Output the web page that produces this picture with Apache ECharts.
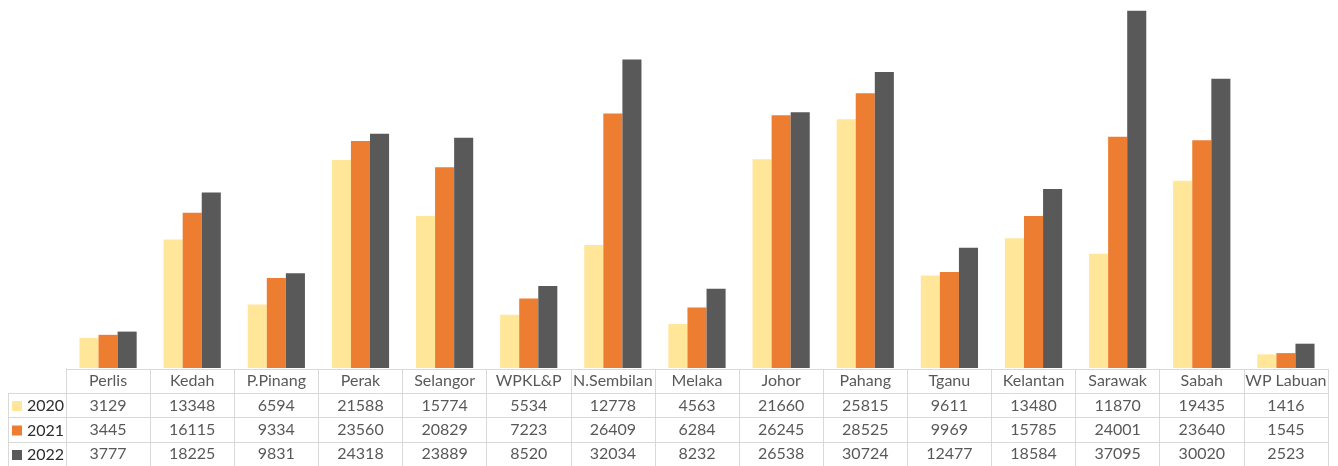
<!DOCTYPE html>
<html>
<head>
<meta charset="utf-8">
<script src="https://cdn.jsdelivr.net/npm/echarts@6/dist/echarts.min.js"></script>
<style>
html,body{margin:0;padding:0;background:#fff;}
#chart{width:1338px;height:466px;}
</style>
</head>
<body>
<div id="chart"></div>
<script>
var categories = ['Perlis','Kedah','P.Pinang','Perak','Selangor','WPKL&P','N.Sembilan','Melaka','Johor','Pahang','Tganu','Kelantan','Sarawak','Sabah','WP Labuan'];
var years = ['2020','2021','2022'];
var v2020 = [3129,13348,6594,21588,15774,5534,12778,4563,21660,25815,9611,13480,11870,19435,1416];
var v2021 = [3445,16115,9334,23560,20829,7223,26409,6284,26245,28525,9969,15785,24001,23640,1545];
var v2022 = [3777,18225,9831,24318,23889,8520,32034,8232,26538,30724,12477,18584,37095,30020,2523];
var colors = ['#FFE699','#ED7D31','#595959'];

var FONT = 'Lato';
var TXT = '#2e2e2e';
var LINE = '#d9d9d9';

var rows = [v2020, v2021, v2022];
var tableData = [];
categories.forEach(function(c, i){ tableData.push([i, 0.5, c]); });
rows.forEach(function(r, ri){
  r.forEach(function(v, i){ tableData.push([i, ri + 1.5, String(v)]); });
});

var chart = echarts.init(document.getElementById('chart'), null, {renderer:'canvas'});
chart.setOption({
  animation: false,
  backgroundColor: '#fff',
  color: colors,
  legend: {
    orient: 'vertical', left: 12, top: 398, padding: 0, height: 80,
    icon: 'rect', itemWidth: 10, itemHeight: 10, itemGap: 8.5,
    textStyle: {fontFamily: FONT, fontSize: 16, color: TXT, lineHeight: 16},
    data: years
  },
  grid: [
    {left: 66, right: 10, top: 0, bottom: 98},
    {left: 66, right: 10, top: 369, height: 98},
    {left: 8, width: 58, top: 393.5, height: 73.5}
  ],
  xAxis: [
    {type: 'category', gridIndex: 0, data: categories, axisLine: {show: false}, axisTick: {show: false}, axisLabel: {show: false}},
    {type: 'category', gridIndex: 1, data: categories, boundaryGap: true, axisLine: {show: false}, axisTick: {show: false}, axisLabel: {show: false},
     splitLine: {show: true, lineStyle: {color: LINE, width: 1}}},
    {type: 'value', gridIndex: 2, min: 0, max: 1, show: false}
  ],
  yAxis: [
    {type: 'value', gridIndex: 0, min: 0, max: 38200, show: false},
    {type: 'value', gridIndex: 1, min: 0, max: 4, interval: 1, inverse: true,
     axisLine: {show: true, lineStyle: {color: LINE}}, axisTick: {show: false}, axisLabel: {show: false},
     splitLine: {show: true, lineStyle: {color: LINE, width: 1}}},
    {type: 'value', gridIndex: 2, min: 0, max: 3, interval: 1, inverse: true,
     axisLine: {show: true, lineStyle: {color: LINE}}, axisTick: {show: false}, axisLabel: {show: false},
     splitLine: {show: true, lineStyle: {color: LINE, width: 1}}}
  ],
  series: [
    {name: years[0], type: 'bar', xAxisIndex: 0, yAxisIndex: 0, data: v2020, barGap: '0%', barCategoryGap: '32%'},
    {name: years[1], type: 'bar', xAxisIndex: 0, yAxisIndex: 0, data: v2021, barGap: '0%', barCategoryGap: '32%'},
    {name: years[2], type: 'bar', xAxisIndex: 0, yAxisIndex: 0, data: v2022, barGap: '0%', barCategoryGap: '32%'},
    {type: 'scatter', xAxisIndex: 1, yAxisIndex: 1, symbolSize: 0, silent: true, data: tableData,
     label: {show: true, position: 'inside', formatter: function(p){ return p.value[2]; },
       fontFamily: FONT, fontSize: 16, color: TXT}}
  ]
});
</script>
</body>
</html>
